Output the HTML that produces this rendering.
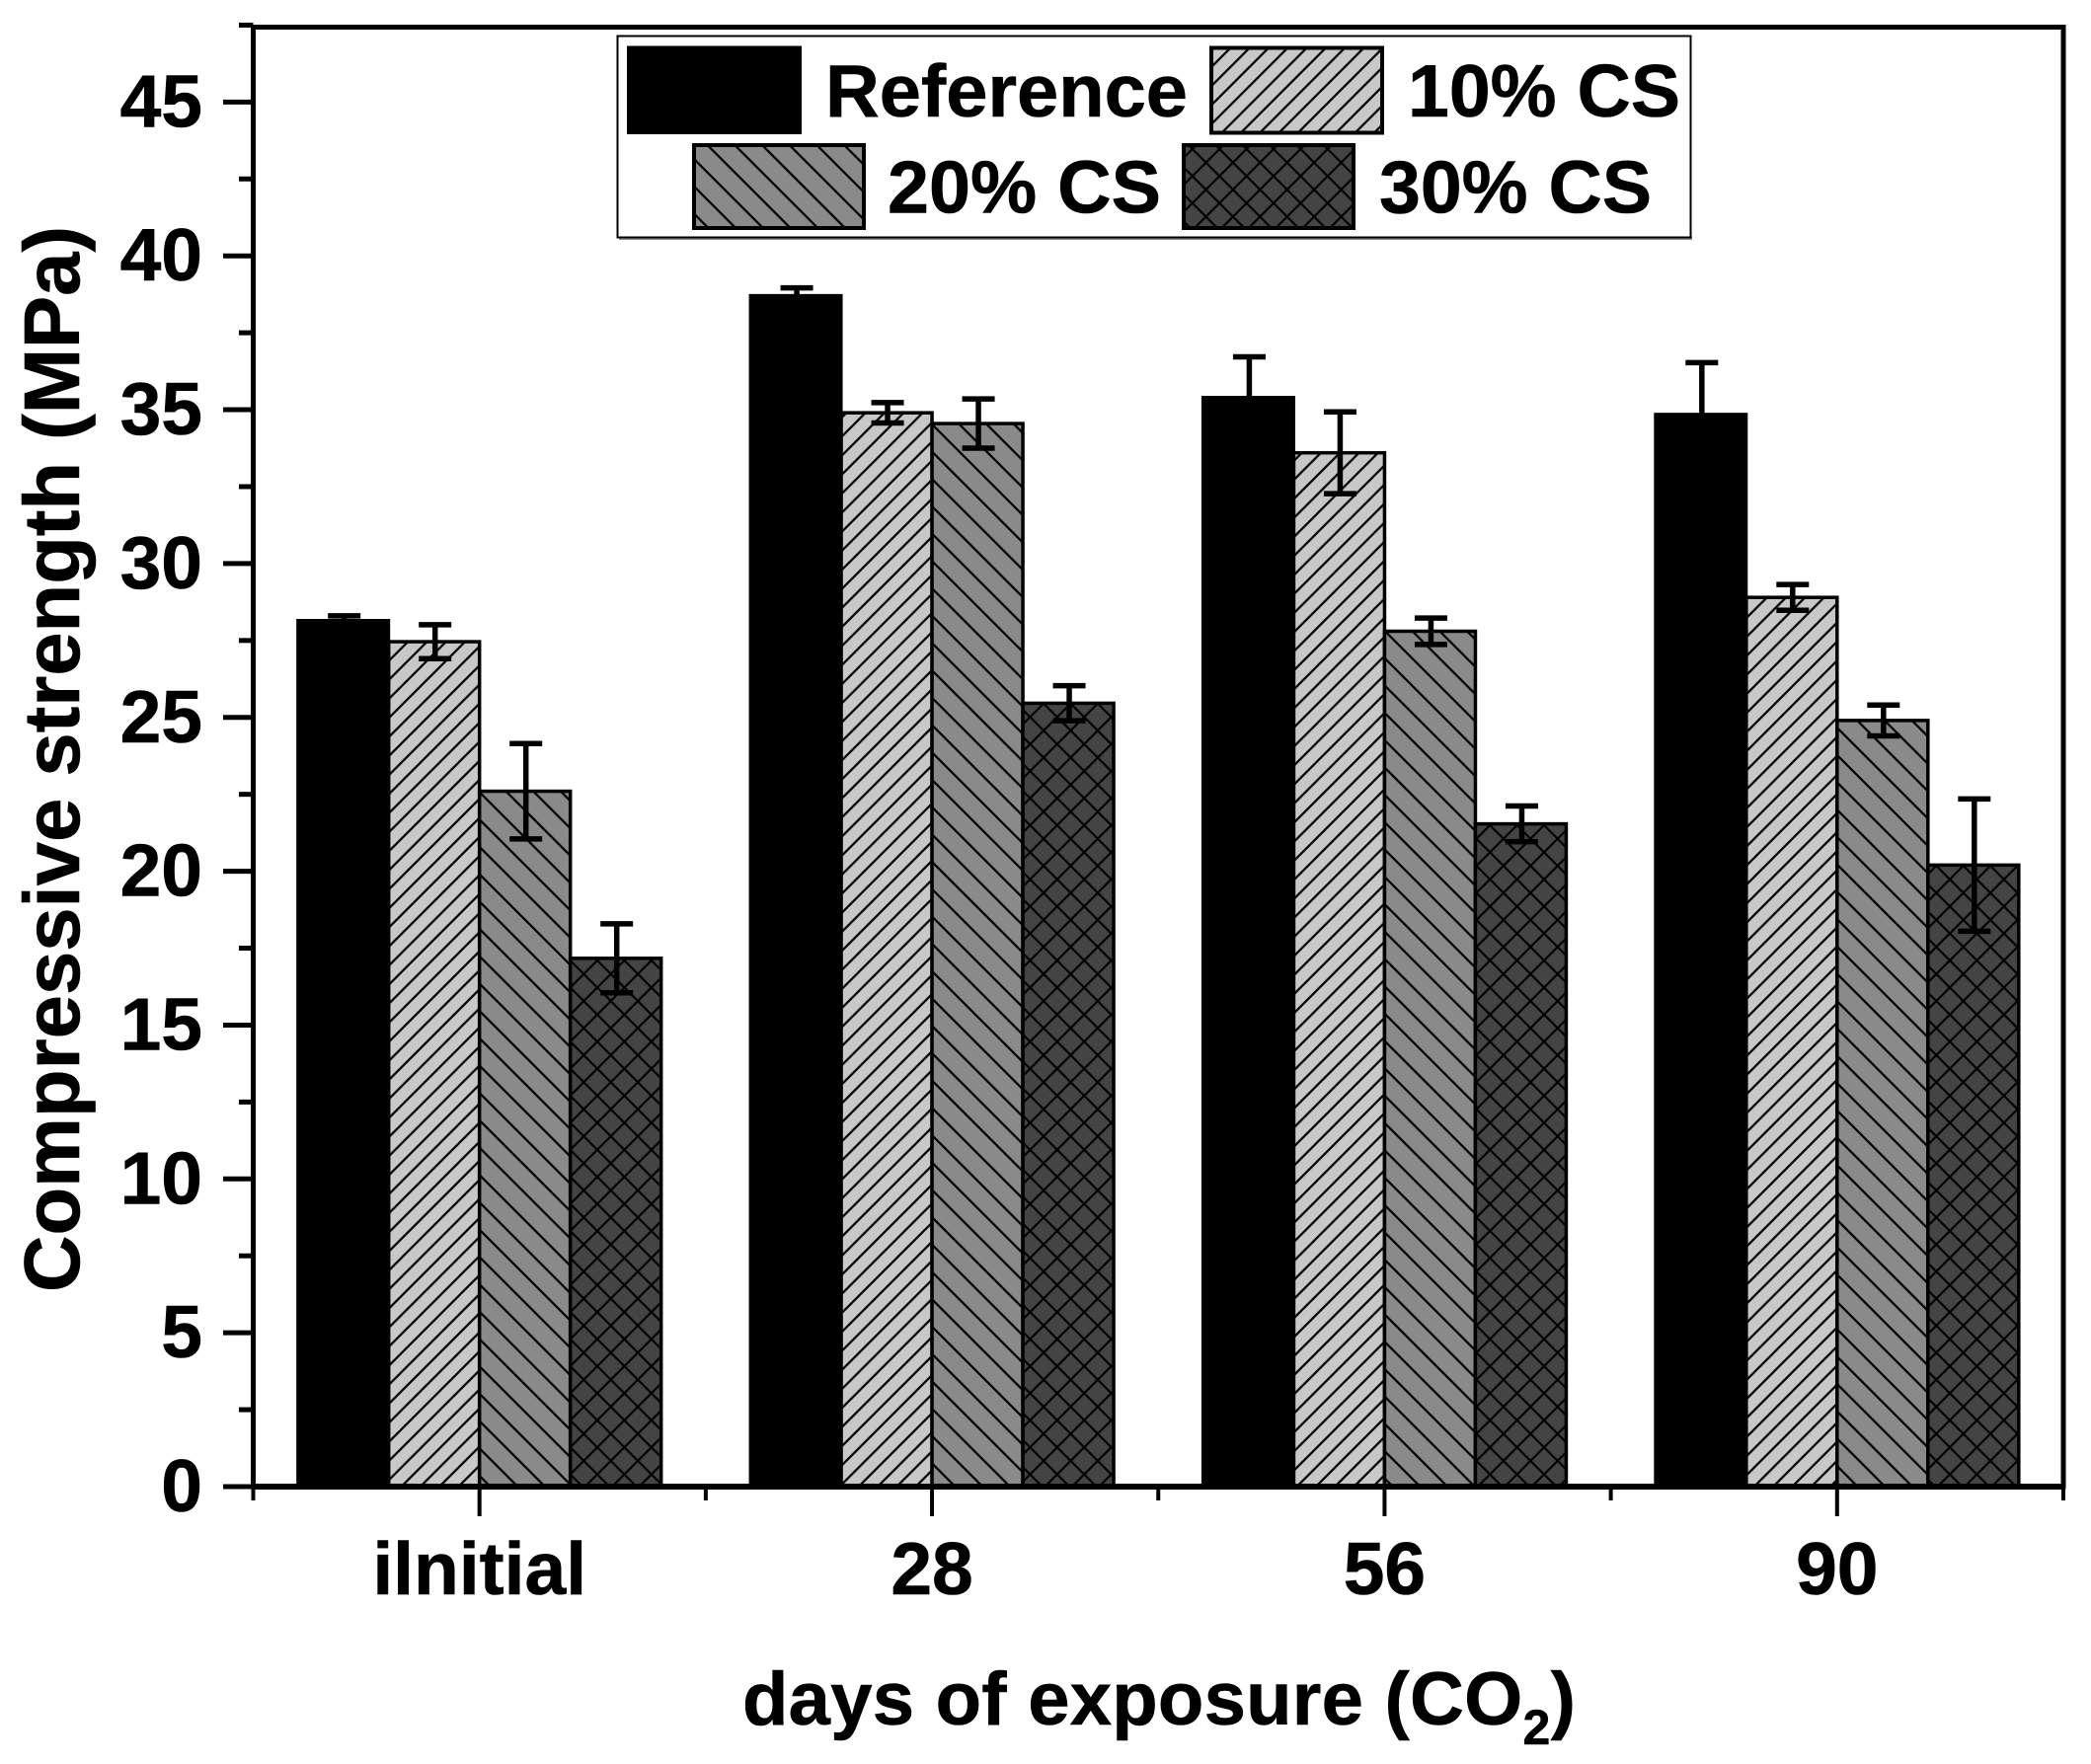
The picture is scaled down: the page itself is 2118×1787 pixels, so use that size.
<!DOCTYPE html>
<html lang="en">
<head>
<meta charset="utf-8">
<title>Compressive strength vs days of CO2 exposure</title>
<style>
  html, body { margin: 0; padding: 0; background: #fff; }
  body { width: 2118px; height: 1787px; overflow: hidden; }
  svg { display: block; }
  text { font-family: "Liberation Sans", Arial, sans-serif; font-weight: 700; fill: #000; stroke: #000; stroke-width: 0.6px; }
</style>
</head>
<body>
<svg id="chart" xmlns="http://www.w3.org/2000/svg" width="2118" height="1787" viewBox="0 0 2118 1787">
  <defs>
    <pattern id="hatch-10" patternUnits="userSpaceOnUse" width="19.3" height="19.3" patternTransform="translate(1.8 0)">
      <rect width="19.3" height="19.3" fill="#c8c8c8"/>
      <path d="M-2 2 L2 -2 M0 19.3 L19.3 0 M17.3 21.3 L21.3 17.3" stroke="#000" stroke-width="2.2" fill="none"/>
    </pattern>
    <pattern id="hatch-20" patternUnits="userSpaceOnUse" width="27.7" height="27.7" patternTransform="translate(15.6 0)">
      <rect width="27.7" height="27.7" fill="#8a8a8a"/>
      <path d="M-2 -2 L29.7 29.7 M-2 25.7 L2 29.7 M25.7 -2 L29.7 2" stroke="#000" stroke-width="2.2" fill="none"/>
    </pattern>
    <pattern id="hatch-30" patternUnits="userSpaceOnUse" width="27.4" height="27.4" patternTransform="translate(2.2 14)">
      <rect width="27.4" height="27.4" fill="#444444"/>
      <path d="M-2 -2 L29.4 29.4 M-2 25.4 L2 29.4 M25.4 -2 L29.4 2 M-2 2 L2 -2 M0 27.4 L27.4 0 M25.4 29.4 L29.4 25.4" stroke="#000" stroke-width="2.2" fill="none"/>
    </pattern>
  </defs>

  <rect x="0" y="0" width="2118" height="1787" fill="#fff"/>
  <g id="bars"></g>
  <g id="axes"></g>

  <g>
    <rect x="627" y="239" width="1087" height="4" fill="#8a8a8a"/>
    <rect x="625.5" y="36.5" width="1087" height="204" fill="#fff" stroke="#000" stroke-width="2"/>
    <rect x="635" y="46.5" width="177" height="89.5" fill="#000"/>
    <text x="836" y="118" font-size="75" textLength="367" lengthAdjust="spacingAndGlyphs">Reference</text>
    <rect x="1227" y="48.5" width="173" height="86" fill="url(#hatch-10)" stroke="#000" stroke-width="4"/>
    <text x="1426" y="118" font-size="75" textLength="276" lengthAdjust="spacingAndGlyphs">10% CS</text>
    <rect x="703" y="147" width="172" height="84" fill="url(#hatch-20)" stroke="#000" stroke-width="4"/>
    <text x="899" y="215.5" font-size="75" textLength="277" lengthAdjust="spacingAndGlyphs">20% CS</text>
    <rect x="1199" y="147" width="172" height="84" fill="url(#hatch-30)" stroke="#000" stroke-width="4"/>
    <text x="1397" y="215.5" font-size="75" textLength="276" lengthAdjust="spacingAndGlyphs">30% CS</text>
  </g>

  <text transform="translate(80 769) rotate(-90)" text-anchor="middle" font-size="80" textLength="1080" lengthAdjust="spacingAndGlyphs">Compressive strength (MPa)</text>
  <text x="752" y="1747" font-size="76" letter-spacing="0.25">days of exposure (CO<tspan font-size="50" dy="20">2</tspan><tspan dy="-20">)</tspan></text>
</svg>

<script>
// ---- chart data ----
const categories = ['ilnitial', '28', '56', '90'];
const seriesNames = ['Reference', '10% CS', '20% CS', '30% CS'];
const referenceValues = [28.2, 38.76, 35.45, 34.9];
const cs10Values = [27.46, 34.9, 33.6, 28.9];
const cs20Values = [22.6, 34.55, 27.8, 24.9];
const cs30Values = [17.17, 25.46, 21.54, 20.2];
const referenceErrors = [0.1, 0.2, 1.27, 1.63];
const cs10Errors = [0.55, 0.33, 1.33, 0.42];
const cs20Errors = [1.55, 0.8, 0.43, 0.5];
const cs30Errors = [1.12, 0.57, 0.58, 2.15];
const yTickLabels = ['0', '5', '10', '15', '20', '25', '30', '35', '40', '45'];
const yMinorTicks = [2.5, 7.5, 12.5, 17.5, 22.5, 27.5, 32.5, 37.5, 42.5, 47.5];

// ---- axis functions ----
const plotLeft = 256.5, plotRight = 2090, plotTop = 27.5, plotBottom = 1506;
const unitPx = 31.17;
const bandPx = (plotRight - plotLeft) / categories.length;
const barPx = 92;
function yScale(v) { return plotBottom - v * unitPx; }
function xBandCenter(i) { return plotLeft + bandPx * (i + 0.5); }
function xBoundary(i) { return plotLeft + bandPx * i; }

const NS = 'http://www.w3.org/2000/svg';
function make(tag, attrs, parent) {
  const el = document.createElementNS(NS, tag);
  for (const k in attrs) el.setAttribute(k, attrs[k]);
  parent.appendChild(el);
  return el;
}

// ---- bars & error bars ----
const barsLayer = document.getElementById('bars');
const seriesValues = [referenceValues, cs10Values, cs20Values, cs30Values];
const seriesErrors = [referenceErrors, cs10Errors, cs20Errors, cs30Errors];
const seriesFills = ['#000', 'url(#hatch-10)', 'url(#hatch-20)', 'url(#hatch-30)'];

seriesValues.forEach(function (values, s) {
  values.forEach(function (v, i) {
    const c = xBandCenter(i);
    const left = c + (s - 2) * barPx;
    const top = yScale(v);
    const black = s === 0;
    const bar = make('rect', {
      x: black ? left - 1.5 : left,
      y: top,
      width: black ? barPx + 3 : barPx,
      height: plotBottom - top,
      fill: seriesFills[s],
      stroke: '#000',
      'stroke-width': black ? 0 : 3.5
    }, barsLayer);
    
    
  });
});

seriesValues.forEach(function (values, s) {
  values.forEach(function (v, i) {
    const e = seriesErrors[s][i];
    const x = xBandCenter(i) + (s - 1.5) * barPx + 1;
    const d = 'M' + (x - 16.5) + ' ' + yScale(v + e) + 'H' + (x + 16.5) +
              'M' + x + ' ' + yScale(v + e) + 'V' + yScale(v - e) +
              'M' + (x - 16.5) + ' ' + yScale(v - e) + 'H' + (x + 16.5);
    const err = make('path', { d: d, fill: 'none', stroke: '#000', 'stroke-width': 5.5 }, barsLayer);
    
    
  });
});

// ---- axes ----
const axesLayer = document.getElementById('axes');
const frame = make('rect', {
  x: plotLeft, y: plotTop, width: plotRight - plotLeft, height: plotBottom - plotTop,
  fill: 'none', stroke: '#000', 'stroke-width': 5
}, axesLayer);



const baseline = make('line', {
  x1: plotLeft, x2: plotRight, y1: plotBottom, y2: plotBottom, stroke: '#000', 'stroke-width': 6
}, axesLayer);



yTickLabels.forEach(function (label) {
  const y = yScale(Number(label));
  const tick = make('line', { x1: 226, x2: plotLeft, y1: y, y2: y, stroke: '#000', 'stroke-width': 5 }, axesLayer);
  
  
  const text = make('text', { x: 205, y: y + 25, 'text-anchor': 'end', 'font-size': 75 }, axesLayer);
  text.textContent = label;
  
  
});

yMinorTicks.forEach(function (v) {
  const y = yScale(v);
  const tick = make('line', { x1: 242, x2: plotLeft, y1: y, y2: y, stroke: '#000', 'stroke-width': 5 }, axesLayer);
  
  
});

categories.forEach(function (label, i) {
  const x = xBandCenter(i);
  const tick = make('line', { x1: x, x2: x, y1: plotBottom, y2: 1536, stroke: '#000', 'stroke-width': 4 }, axesLayer);
  
  
  const text = make('text', { x: x, y: 1615, 'text-anchor': 'middle', 'font-size': 75 }, axesLayer);
  text.textContent = label;
  
  
});

for (let i = 0; i <= categories.length; i++) {
  const x = xBoundary(i);
  const tick = make('line', { x1: x, x2: x, y1: plotBottom, y2: 1520, stroke: '#000', 'stroke-width': 4 }, axesLayer);
  
  
}
</script>
</body>
</html>
